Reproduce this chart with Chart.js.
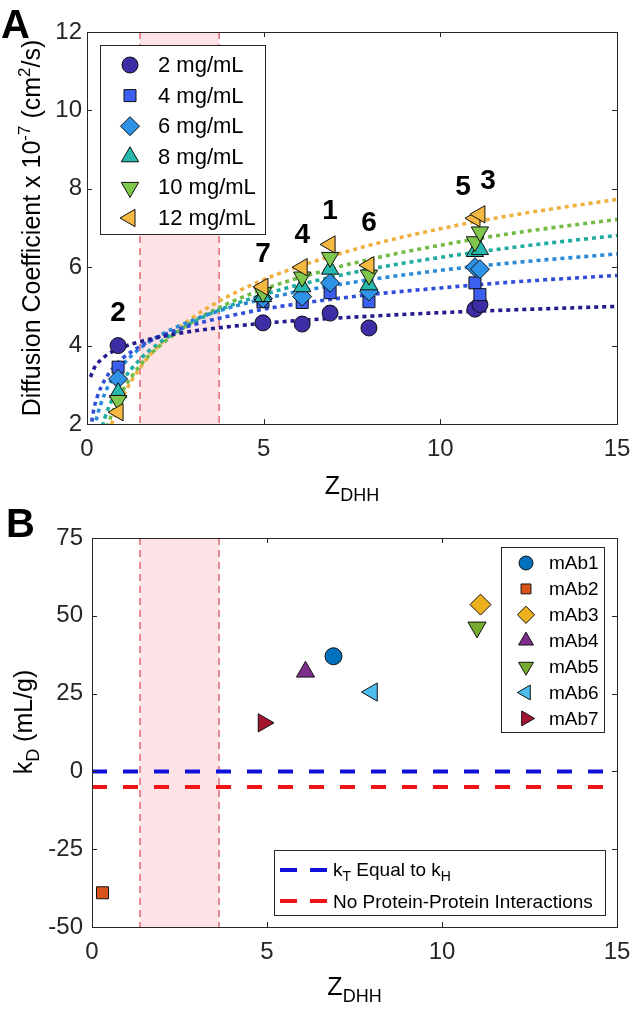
<!DOCTYPE html>
<html><head><meta charset="utf-8">
<script src="https://cdn.jsdelivr.net/npm/chart.js@4.4.0/dist/chart.umd.min.js"></script>
<style>
html,body{margin:0;padding:0;background:#fff;}
#wrap{position:relative;width:633px;height:1009px;overflow:hidden;}
canvas{position:absolute;left:0;}
</style></head><body>
<div id="wrap">
<canvas id="chartA" width="633" height="505" style="top:0"></canvas>
<canvas id="chartB" width="633" height="504" style="top:505px"></canvas>
</div>
<script>
// ---------------- DATA: panel A ----------------
const mAbNamesA = ['mAb2','mAb7','mAb4','mAb1','mAb6','mAb5','mAb3'];
const zA = [0.88, 4.98, 6.09, 6.88, 7.98, 10.98, 11.12];
const conc = ['2 mg/mL','4 mg/mL','6 mg/mL','8 mg/mL','10 mg/mL','12 mg/mL'];
const d2  = [4.00, 4.58, 4.55, 4.83, 4.45, 4.93, 5.05];
const d4  = [3.45, 5.12, 5.10, 5.35, 5.12, 5.60, 5.30];
const d6  = [3.15, 5.20, 5.25, 5.60, 5.38, 6.00, 5.95];
const d8  = [2.80, 5.25, 5.50, 5.95, 5.55, 6.40, 6.45];
const d10 = [2.60, 5.35, 5.75, 6.25, 5.80, 6.65, 6.90];
const d12 = [2.30, 5.50, 6.00, 6.58, 6.05, 7.25, 7.35];
// fitted dotted curves
const fitZ  = [0.1, 0.2, 0.3, 0.5, 0.7, 1, 1.5, 2, 3, 4, 5, 6, 8, 10, 12, 15];
const fit2  = [3.20, 3.42, 3.55, 3.72, 3.84, 3.96, 4.10, 4.21, 4.37, 4.48, 4.57, 4.64, 4.75, 4.84, 4.91, 5.00];
const fit4  = [1.86, 2.40, 2.72, 3.12, 3.38, 3.67, 3.98, 4.21, 4.53, 4.75, 4.93, 5.07, 5.30, 5.47, 5.62, 5.79];
const fit6  = [1.08, 1.81, 2.24, 2.77, 3.13, 3.50, 3.93, 4.23, 4.65, 4.96, 5.19, 5.38, 5.68, 5.92, 6.11, 6.34];
const fit8  = [-0.07, 0.89, 1.44, 2.14, 2.60, 3.09, 3.65, 4.04, 4.60, 5.00, 5.30, 5.55, 5.95, 6.25, 6.50, 6.81];
const fit10 = [-0.90, 0.22, 0.88, 1.71, 2.25, 2.83, 3.49, 3.95, 4.61, 5.08, 5.44, 5.73, 6.20, 6.56, 6.86, 7.22];
const fit12 = [-1.64, -0.34, 0.42, 1.37, 2.00, 2.67, 3.43, 3.97, 4.72, 5.26, 5.68, 6.02, 6.56, 6.98, 7.32, 7.73];
const labelTextA = ['2','7','4','1','6','5','3'];
const labelZA = [0.88, 4.98, 6.09, 6.88, 7.98, 10.64, 11.35];
const labelDA = [4.83, 6.32, 6.81, 7.42, 7.12, 8.04, 8.19];
const bandA = [1.5, 3.74];
const yTicksA = [2, 12, 2];
// ---------------- DATA: panel B ----------------
const mAbNamesB = ['mAb1','mAb2','mAb3','mAb4','mAb5','mAb6','mAb7'];
const zB  = [6.90, 0.30, 11.10, 6.10, 11.00, 8.00, 4.90];
const kD  = [37.0, -39.0, 53.6, 32.0, 46.3, 25.5, 15.6];
const refNames = ['kT Equal to kH', 'No Protein-Protein Interactions'];
const refValues = [0, -5];
const bandB = [1.37, 3.63];
const xTicks = [0, 15, 5];
const yTicksB = [-50, 75, 25];

// ---------------- styles ----------------
const FF = '"Liberation Sans", Arial, Helvetica, sans-serif';
const AX = '#262626';
const concFill  = ['#3d2ea6','#3c5ff0','#2e92e6','#27b9ad','#7fc74d','#f5b942'];
const concLine  = ['#231c8e','#2f4fd8','#2b8ad8','#1fab9f','#72bb44','#f0b040'];
const concStyle = [
  {pointStyle:'circle', radius:8, rotation:0},
  {pointStyle:'rect', radius:8.5, rotation:0},
  {pointStyle:'rectRot', radius:9.5, rotation:0},
  {pointStyle:'triangle', radius:10, rotation:0},
  {pointStyle:'triangle', radius:10, rotation:180},
  {pointStyle:'triangle', radius:10, rotation:270}
];
const mAbFill = ['#0072BD','#D95319','#EDB120','#7E2F8E','#77AC30','#4DBEEE','#A2142F'];
const mAbStyle = [
  {pointStyle:'circle', radius:8.5, rotation:0},
  {pointStyle:'rect', radius:8.5, rotation:0},
  {pointStyle:'rectRot', radius:10.5, rotation:0},
  {pointStyle:'triangle', radius:10.5, rotation:0},
  {pointStyle:'triangle', radius:10.5, rotation:180},
  {pointStyle:'triangle', radius:10.5, rotation:270},
  {pointStyle:'triangle', radius:10.5, rotation:90}
];
const refColors = ['#1010dc','#f01414'];

// ---------------- helpers ----------------
function drawRich(ctx, parts, x, y, align){
  let w = 0;
  parts.forEach(p=>{ctx.font=p.f; w+=ctx.measureText(p.t).width;});
  let cx = align==='center' ? x - w/2 : x;
  ctx.textAlign='left'; ctx.textBaseline='alphabetic';
  parts.forEach(p=>{ctx.font=p.f; ctx.fillText(p.t, cx, y+(p.dy||0)); cx+=ctx.measureText(p.t).width;});
}
function boxTicks(chart){
  const {ctx, chartArea:a, scales:{x,y}} = chart;
  ctx.save();
  ctx.strokeStyle = AX; ctx.lineWidth = 1;
  ctx.strokeRect(Math.round(a.left)+0.5, Math.round(a.top)+0.5, Math.round(a.right-a.left), Math.round(a.bottom-a.top));
  const L = 5;
  ctx.beginPath();
  x.ticks.forEach(t=>{const p=Math.round(x.getPixelForValue(t.value))+0.5;
    ctx.moveTo(p,a.bottom); ctx.lineTo(p,a.bottom-L); ctx.moveTo(p,a.top); ctx.lineTo(p,a.top+L);});
  y.ticks.forEach(t=>{const p=Math.round(y.getPixelForValue(t.value))+0.5;
    ctx.moveTo(a.left,p); ctx.lineTo(a.left+L,p); ctx.moveTo(a.right,p); ctx.lineTo(a.right-L,p);});
  ctx.stroke();
  ctx.restore();
}
function band(chart, range){
  const {ctx, chartArea:a, scales:{x}} = chart;
  const x0 = x.getPixelForValue(range[0]), x1 = x.getPixelForValue(range[1]);
  ctx.save();
  ctx.fillStyle = '#fde3e5';
  ctx.fillRect(x0, a.top, x1-x0, a.bottom-a.top);
  ctx.strokeStyle = '#e4727c'; ctx.lineWidth = 1.6; ctx.setLineDash([7,5]);
  ctx.beginPath();
  [x0,x1].forEach(p=>{ctx.moveTo(p,a.top); ctx.lineTo(p,a.bottom);});
  ctx.stroke();
  ctx.restore();
}
function marker(ctx, st, fill, x, y){
  ctx.save();
  ctx.fillStyle = fill; ctx.strokeStyle = '#111'; ctx.lineWidth = 1;
  Chart.helpers.drawPoint(ctx, {pointStyle:st.pointStyle, radius:st.radius, rotation:st.rotation, borderWidth:1}, x, y);
  ctx.restore();
}
function scaleOpts(ticks, widthOrHeight, axis, pad){
  const o = {
    type:'linear', min:ticks[0], max:ticks[1],
    grid:{display:false, drawTicks:false},
    border:{display:false},
    ticks:{stepSize:ticks[2], color:AX, padding:pad, font:{family:FF, size:24}, maxRotation:0, autoSkip:false}
  };
  if(axis==='y') o.afterFit = s=>{s.width = widthOrHeight; s.paddingTop=0; s.paddingBottom=0;};
  else o.afterFit = s=>{s.height = widthOrHeight; s.paddingLeft=0; s.paddingRight=0;};
  return o;
}

// ---------------- Panel A ----------------
const fits = [fit2, fit4, fit6, fit8, fit10, fit12];
const dvals = [d2, d4, d6, d8, d10, d12];
const dsA = [];
dvals.forEach((arr,i)=>{
  dsA.push({
    label: conc[i], order: 6-i, clip:false,
    data: arr.map((v,j)=>({x:zA[j], y:v})),
    pointStyle: concStyle[i].pointStyle, pointRadius: concStyle[i].radius, pointRotation: concStyle[i].rotation,
    pointBackgroundColor: concFill[i], pointBorderColor:'#111', pointBorderWidth:1, showLine:false
  });
});
fits.forEach((arr,i)=>{
  dsA.push({
    label: conc[i]+' fit', order: 20, type:'line',
    data: arr.map((v,j)=>({x:fitZ[j], y:v})),
    borderColor: concLine[i], borderWidth:3.6, borderDash:[4,4], borderCapStyle:'butt',
    pointRadius:0, fill:false, cubicInterpolationMode:'monotone'
  });
});

const pluginA = {
  id:'pA',
  beforeDatasetsDraw(chart){ band(chart, bandA); },
  afterDatasetsDraw(chart){
    const {ctx, chartArea:a, scales:{x,y}} = chart;
    boxTicks(chart);
    ctx.save();
    ctx.fillStyle='#000'; ctx.font='bold 28px '+FF; ctx.textAlign='center'; ctx.textBaseline='middle';
    labelTextA.forEach((t,i)=>ctx.fillText(t, x.getPixelForValue(labelZA[i]), y.getPixelForValue(labelDA[i])));
    ctx.restore();
    ctx.save();
    const lx=100, ly=45, lw=165, lh=189;
    ctx.fillStyle='#fff'; ctx.fillRect(lx,ly,lw,lh);
    ctx.strokeStyle=AX; ctx.lineWidth=1; ctx.strokeRect(lx+0.5,ly+0.5,lw,lh);
    conc.forEach((c,i)=>{
      const ry = 65 + i*30.6;
      marker(ctx, concStyle[i], concFill[i], 130, ry);
      ctx.fillStyle='#000'; ctx.font='22px '+FF; ctx.textAlign='left'; ctx.textBaseline='middle';
      ctx.fillText(c, 158, ry+1);
    });
    ctx.restore();
    ctx.save();
    ctx.fillStyle='#000';
    drawRich(ctx, [{t:'Z',f:'25px '+FF},{t:'DHH',f:'18px '+FF,dy:7}], (a.left+a.right)/2, 494, 'center');
    ctx.translate(40, (a.top+a.bottom)/2); ctx.rotate(-Math.PI/2);
    drawRich(ctx, [{t:'Diffusion Coefficient x 10',f:'25px '+FF},{t:'-7',f:'17px '+FF,dy:-10},
      {t:' (cm',f:'25px '+FF},{t:'2',f:'17px '+FF,dy:-10},{t:'/s)',f:'25px '+FF}], 0, 0, 'center');
    ctx.restore();
    ctx.save(); ctx.fillStyle='#000'; ctx.font='bold 40px '+FF; ctx.textAlign='left'; ctx.textBaseline='alphabetic';
    ctx.fillText('A', 1, 38); ctx.restore();
  }
};

new Chart(document.getElementById('chartA'), {
  type:'scatter',
  data:{datasets:dsA},
  options:{
    responsive:false, animation:false, devicePixelRatio:1, events:[],
    layout:{padding:{left:0, top:32, right:16, bottom:0}},
    plugins:{legend:{display:false}, tooltip:{enabled:false}},
    scales:{ x: scaleOpts(xTicks, 81, 'x', 11), y: scaleOpts(yTicksA, 87, 'y', 5) }
  },
  plugins:[pluginA]
});

// ---------------- Panel B ----------------
const dsB = [];
mAbNamesB.forEach((n,i)=>{
  dsB.push({
    label:n, order:1, clip:false,
    data:[{x:zB[i], y:kD[i]}],
    pointStyle: mAbStyle[i].pointStyle, pointRadius: mAbStyle[i].radius, pointRotation: mAbStyle[i].rotation,
    pointBackgroundColor: mAbFill[i], pointBorderColor:'#111', pointBorderWidth:1, showLine:false
  });
});
refValues.forEach((v,i)=>{
  dsB.push({
    label: refNames[i], order:5, type:'line',
    data: xTicks.slice(0,2).map(xx=>({x:xx, y:v})),
    borderColor: refColors[i], borderWidth:4, borderDash:[15,16], borderCapStyle:'butt',
    pointRadius:0, fill:false
  });
});

const pluginB = {
  id:'pB',
  beforeDatasetsDraw(chart){ band(chart, bandB); },
  afterDatasetsDraw(chart){
    const {ctx, chartArea:a} = chart;
    boxTicks(chart);
    const off = 505;
    ctx.save();
    let lx=501, ly=547-off, lw=103, lh=185;
    ctx.fillStyle='#fff'; ctx.fillRect(lx,ly,lw,lh);
    ctx.strokeStyle=AX; ctx.lineWidth=1; ctx.strokeRect(lx+0.5,ly+0.5,lw,lh);
    mAbNamesB.forEach((n,i)=>{
      const ry = 563-off + i*25.9;
      const st = Object.assign({}, mAbStyle[i], {radius: mAbStyle[i].radius*0.82});
      marker(ctx, st, mAbFill[i], 526, ry);
      ctx.fillStyle='#000'; ctx.font='19px '+FF; ctx.textAlign='left'; ctx.textBaseline='middle';
      ctx.fillText(n, 549, ry+1);
    });
    lx=274; ly=850-off; lw=331; lh=65;
    ctx.fillStyle='#fff'; ctx.fillRect(lx,ly,lw,lh);
    ctx.strokeStyle=AX; ctx.lineWidth=1; ctx.strokeRect(lx+0.5,ly+0.5,lw,lh);
    const rows=[870-off, 901-off];
    rows.forEach((ry,i)=>{
      ctx.strokeStyle=refColors[i]; ctx.lineWidth=4; ctx.setLineDash([17,13]);
      ctx.beginPath(); ctx.moveTo(280,ry); ctx.lineTo(327,ry); ctx.stroke(); ctx.setLineDash([]);
    });
    ctx.fillStyle='#000';
    drawRich(ctx, [{t:'k',f:'19px '+FF},{t:'T',f:'14px '+FF,dy:5},{t:' Equal to k',f:'19px '+FF},{t:'H',f:'14px '+FF,dy:5}], 333, rows[0]+6, 'left');
    drawRich(ctx, [{t:refNames[1],f:'19px '+FF}], 333, rows[1]+7, 'left');
    ctx.restore();
    ctx.save(); ctx.fillStyle='#000';
    drawRich(ctx, [{t:'Z',f:'25px '+FF},{t:'DHH',f:'18px '+FF,dy:7}], (a.left+a.right)/2, 995-off, 'center');
    ctx.translate(32, 722-off); ctx.rotate(-Math.PI/2);
    drawRich(ctx, [{t:'k',f:'25px '+FF},{t:'D',f:'18px '+FF,dy:7},{t:' (mL/g)',f:'25px '+FF}], 0, 0, 'center');
    ctx.restore();
    ctx.save(); ctx.fillStyle='#000'; ctx.font='bold 40px '+FF; ctx.textAlign='left'; ctx.textBaseline='alphabetic';
    ctx.fillText('B', 6, 537-off); ctx.restore();
  }
};

new Chart(document.getElementById('chartB'), {
  type:'scatter',
  data:{datasets:dsB},
  options:{
    responsive:false, animation:false, devicePixelRatio:1, events:[],
    layout:{padding:{left:0, top:33, right:16, bottom:0}},
    plugins:{legend:{display:false}, tooltip:{enabled:false}},
    scales:{ x: scaleOpts(xTicks, 82, 'x', 11), y: scaleOpts(yTicksB, 92, 'y', 9) }
  },
  plugins:[pluginB]
});
</script>
</body></html>
